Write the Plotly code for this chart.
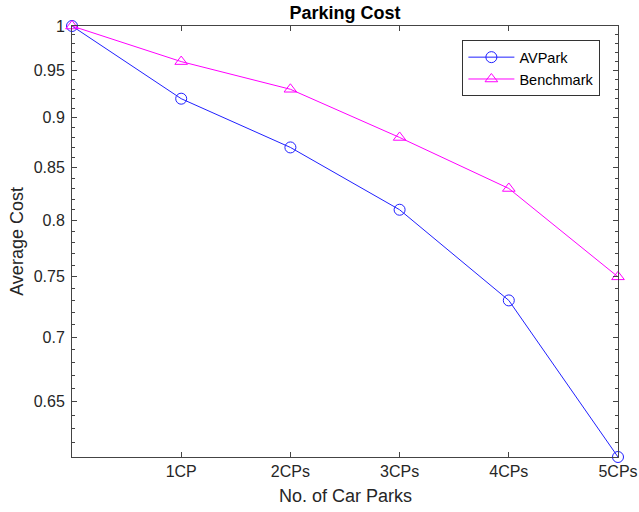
import plotly.graph_objects as go
import numpy as np

x_vals = [0, 1, 2, 3, 4, 5]
tick_pos = [1, 2, 3, 4, 5]
tick_labels = ["1CP", "2CPs", "3CPs", "4CPs", "5CPs"]
avpark = [1.0, 0.92, 0.87, 0.81, 0.73, 0.61]
benchmark = [1.0, 0.96, 0.93, 0.88, 0.83, 0.75]
y_major = [0.65, 0.7, 0.75, 0.8, 0.85, 0.9, 0.95, 1.0]
y_major_labels = ["0.65", "0.7", "0.75", "0.8", "0.85", "0.9", "0.95", "1"]
y_minor = [round(0.61 + 0.01 * i, 2) for i in range(40)]

FONT = "Liberation Sans, Arial"

fig = go.Figure()
fig.add_trace(go.Scatter(
    x=x_vals, y=avpark, name="AVPark", mode="lines+markers",
    line=dict(color="#2020ff", width=1),
    marker=dict(symbol="circle-open", size=11, color="#2020ff", line=dict(width=1)),
    cliponaxis=False,
))
fig.add_trace(go.Scatter(
    x=x_vals, y=benchmark, name="Benchmark", mode="lines+markers",
    line=dict(color="#ff00ff", width=1),
    marker=dict(symbol="triangle-up-open", size=11, color="#ff00ff", line=dict(width=1)),
    cliponaxis=False,
))

axis_common = dict(
    showline=True, linecolor="#444444", linewidth=1, mirror="ticks",
    ticks="inside", ticklen=5, tickcolor="#444444",
    showgrid=False, zeroline=False, automargin=False,
    tickfont=dict(family=FONT, size=16, color="#262626"),
)

fig.update_layout(
    width=639, height=512,
    paper_bgcolor="white", plot_bgcolor="white",
    margin=dict(l=72, r=21, t=26, b=55),
    title=dict(text="<b>Parking Cost</b>", x=0.54, xanchor="center", y=0.975, yanchor="middle",
               font=dict(family=FONT, size=18, color="black")),
    font=dict(family=FONT, color="#262626"),
    xaxis=dict(
        range=[0, 5], tickmode="array", tickvals=tick_pos, ticktext=tick_labels,
        **axis_common,
    ),
    yaxis=dict(
        type="log", range=[np.log10(0.61), 0], tickmode="array",
        tickvals=y_major, ticktext=y_major_labels, ticklabelstandoff=3,
        minor=dict(tickmode="array", tickvals=y_minor, ticks="inside", ticklen=3, tickcolor="#444444"),
        **axis_common,
    ),
    legend=dict(
        x=0.715, y=0.967, xanchor="left", yanchor="top",
        bordercolor="#333333", borderwidth=1, bgcolor="white",
        font=dict(family=FONT, size=14.5, color="black"),
        tracegroupgap=0, itemwidth=46,
    ),
    showlegend=True,
    annotations=[
        dict(text="No. of Car Parks", xref="paper", yref="paper", x=0.5, y=-0.09,
             xanchor="center", yanchor="middle", showarrow=False,
             font=dict(family=FONT, size=18, color="#262626")),
        dict(text="Average Cost", xref="paper", yref="paper", x=-0.102, y=0.5,
             xanchor="center", yanchor="middle", showarrow=False, textangle=-90,
             font=dict(family=FONT, size=18, color="#262626")),
    ],
)

fig.write_html("out.html", config={"displayModeBar": False},
               post_script="document.body.style.margin='0';")
